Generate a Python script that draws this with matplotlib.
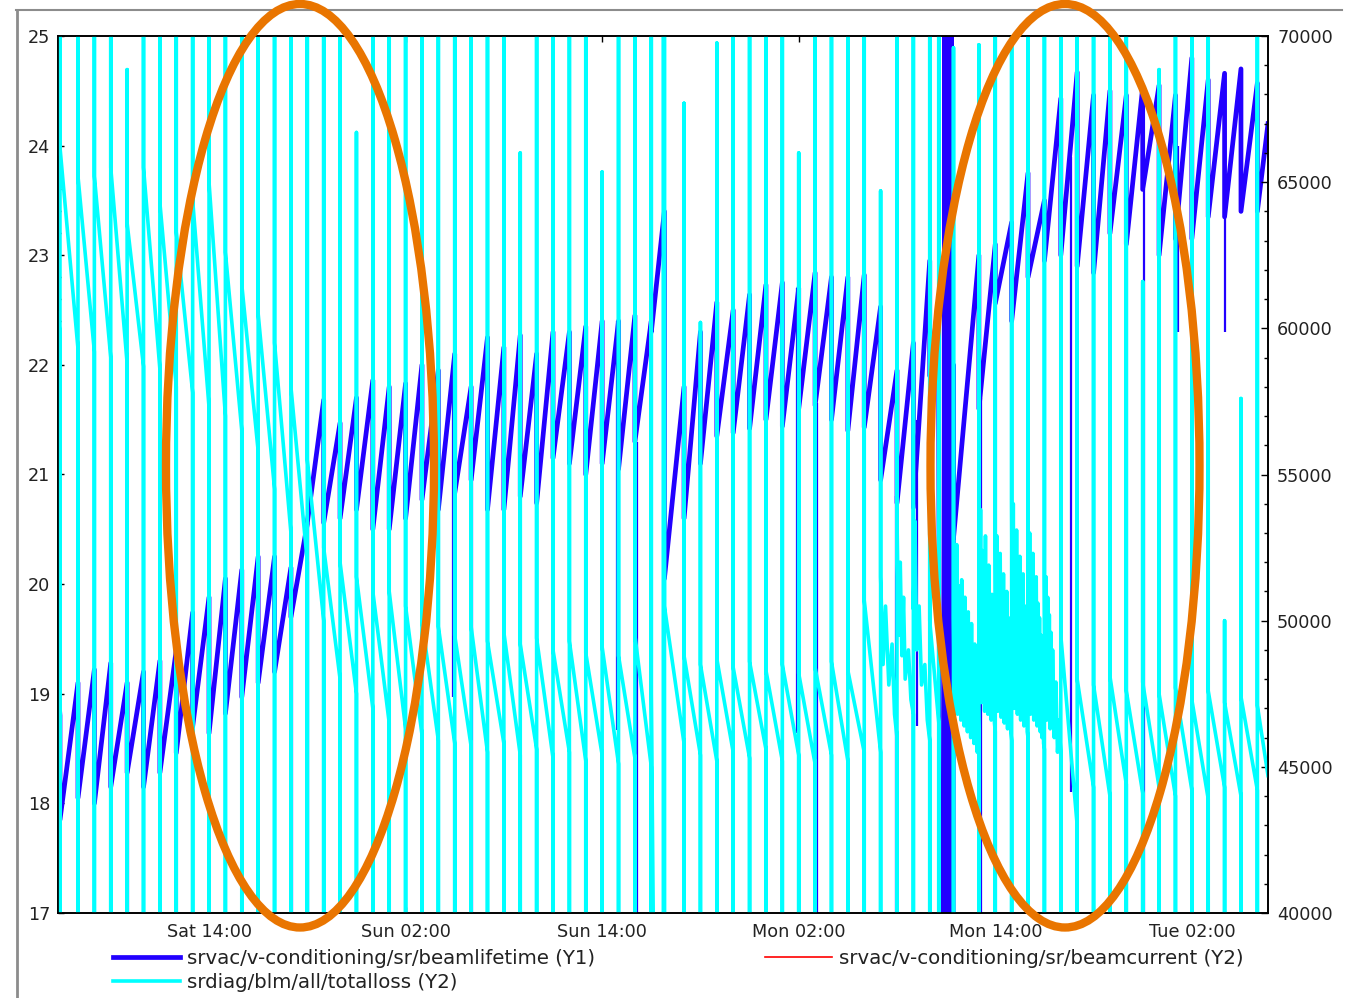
import datetime as dt

import matplotlib
matplotlib.use("Agg")
import matplotlib.pyplot as plt
import matplotlib.dates as mdates
from matplotlib.ticker import MultipleLocator, NullLocator
from matplotlib.patches import Ellipse
from matplotlib.lines import Line2D

# ---------------------------------------------------------------------------
# Data (times are hours after Saturday 00:00)
# ---------------------------------------------------------------------------
T0 = dt.datetime(2024, 6, 1)          # a Saturday
T_START, T_END = 4.78, 78.65

# top-up injection times
inject_h = [4.9, 6, 7, 8, 9, 10, 11, 12, 13, 14, 15, 16, 17, 18, 19, 20, 21,
            22, 23, 24, 25, 26, 27, 28, 29, 30, 31, 32, 33, 34, 35, 36, 37,
            38, 39, 40, 41, 41.8, 43, 44, 45, 46, 47, 48, 49, 50, 51, 52, 53,
            54, 55, 56, 57, 58, 58.55, 59.45, 61, 62, 63, 64, 65, 66, 67, 68,
            69, 70, 71, 72, 73, 74, 75, 76, 77, 78]

# beam lifetime (h) just after each injection and just before the next one
life_lo = [17.85, 18.05, 18.0, 18.15, 18.28, 18.15, 18.28, 18.46, 18.7, 18.64,
           18.82, 18.97, 19.1, 19.2, 19.7, 20.56, 20.56, 20.6, 20.68, 20.5,
           20.5, 20.6, 20.77, 20.68, 20.83, 20.95, 20.68, 20.68, 20.8, 20.74,
           21.15, 21.1, 21.0, 21.1, 21.05, 21.3, 22.3, 20.05, 20.6, 21.1,
           21.35, 21.38, 21.42, 21.5, 21.44, 21.6, 21.63, 21.5, 21.4, 21.43,
           20.95, 20.74, 20.7, 21.9, 21.5, 20.42, 21.6, 22.56, 22.4, 22.8,
           22.95, 23.0, 22.9, 22.84, 23.2, 23.1, 23.6, 23.0, 23.15, 23.15,
           23.35, 23.35, 23.4, 23.4]
life_hi = [19.1, 19.22, 19.28, 19.1, 19.2, 19.3, 19.4, 19.74, 19.88, 20.05,
           20.13, 20.25, 20.25, 20.15, 20.55, 21.68, 21.47, 21.7, 21.86, 21.8,
           21.83, 22.0, 21.95, 22.1, 21.8, 22.25, 22.16, 22.27, 22.1, 22.3,
           22.3, 22.35, 22.4, 22.4, 22.45, 22.4, 23.4, 21.8, 22.3, 22.57,
           22.5, 22.64, 22.73, 22.75, 22.7, 22.84, 22.8, 22.8, 22.82, 22.53,
           21.95, 22.2, 22.95, 22.6, 22.0, 23.0, 23.1, 23.3, 23.75, 23.5,
           24.43, 24.67, 24.46, 24.5, 24.46, 24.53, 24.55, 24.46, 24.8, 24.6,
           24.66, 24.7, 24.57, 24.2]
life_lead = [19.05, 18.8]

# short lifetime glitches: time, upper and lower end of the excursion
glitch_h = [9.04, 19.08, 20.06, 28.9, 30.05, 38.9, 40.1, 41.75, 49.9, 51.1,
            55.95, 57.2, 61.15, 66.6, 71.1, 73.15, 76.0]
glitch_top = [18.3, 19.8, 20.6, 22.0, 21.0, 22.4, 21.3, 24.72, 22.7, 21.65,
              20.8, 21.5, 21.7, 23.9, 23.6, 24.0, 23.4]
glitch_bottom = [16.0, 16.0, 16.0, 18.97, 16.0, 18.67, 16.0, 23.4, 18.64,
                 16.0, 16.0, 18.71, 16.0, 18.1, 16.0, 22.3, 22.3]

# beam trip on Monday morning: lifetime readings jump over the full range
trip_h = [58.88, 58.9, 58.92, 58.94, 58.96, 58.98, 59.0, 59.02, 59.05, 59.08,
          59.11, 59.14, 59.17, 59.2, 59.23, 59.26, 59.29, 59.32, 59.35]
trip_life = [0, 40, 0, 40, 0, 40, 0, 40, 0, 40, 0, 40, 0, 40, 0, 40, 0, 40, 0]

# total BLM loss just after each injection and just before the next one
loss_start = [66200, 65200, 65200, 65500, 63600, 65500, 64300, 63300, 64400,
              65000, 62600, 61500, 60500, 59500, 58000, 55500, 52500, 52000,
              51500, 51000, 51000, 50500, 50000, 49800, 49500, 49800, 49300,
              49600, 49200, 49400, 49000, 49300, 48900, 49100, 48800, 49500,
              47500, 50500, 48800, 48500, 48700, 48400, 48600, 48300, 48500,
              48200, 48400, 48600, 48300, 50700, 51500, 53500, 50400, 50000,
              49000, 50100, 53900, 53000, 54100, 53000, 51500, 49500, 48000,
              47800, 48100, 47600, 47900, 47500, 47700, 47300, 47600, 47200,
              47400, 47100]
loss_end = [59300, 59200, 59000, 58800, 58700, 58600, 58000, 57800, 57300,
            57000, 56500, 55800, 54500, 53000, 52000, 50000, 48000, 47500,
            47000, 46500, 46300, 46100, 45900, 45800, 45700, 45500, 45800,
            45400, 45600, 45300, 45500, 45200, 45400, 45100, 45300, 45000,
            42400, 45800, 45400, 45200, 45500, 45300, 45600, 45200, 45400,
            45100, 45400, 45200, 45500, 45500, 46000, 46800, 45900, 46500,
            47000, 45100, 46200, 45900, 46000, 45600, 45400, 43000, 44300,
            44000, 44400, 44100, 44300, 44000, 44200, 43900, 44300, 44000,
            44200, 44700]
loss_lead = [60500, 59800]

# injection spike peak (values above 70000 leave the plot)
spike_top = [80000, 80000, 80000, 80000, 68850, 80000, 80000, 80000, 80000,
             80000, 80000, 80000, 80000, 80000, 80000, 80000, 80000, 80000,
             66700, 80000, 80000, 80000, 80000, 80000, 80000, 80000, 80000,
             80000, 66000, 80000, 80000, 80000, 80000, 65350, 80000, 80000,
             80000, 80000, 67700, 60200, 69760, 80000, 80000, 80000, 80000,
             66000, 80000, 80000, 80000, 80000, 64700, 80000, 80000, 80000,
             80000, 69600, 69700, 80000, 80000, 80000, 80000, 80000, 80000,
             80000, 80000, 80000, 61600, 68850, 80000, 80000, 80000, 50000,
             57600, 80000]

# extra loss readings inside some fills (refill bursts and noisy periods)
wiggle_h = [41.74, 41.745, 41.77, 41.775,
            55.15, 55.3, 55.5, 55.7, 55.85,
            56.1, 56.2, 56.3, 56.4, 56.5, 56.7, 56.85,
            57.1, 57.2, 57.35, 57.5, 57.7, 57.85,
            59.5, 59.55, 59.6, 59.65, 59.7, 59.75, 59.8, 59.85, 59.9, 59.95,
            60.0, 60.05, 60.1, 60.15, 60.2, 60.25, 60.3, 60.35, 60.4, 60.45,
            60.5, 60.55, 60.6, 60.65, 60.7, 60.75, 60.8, 60.85, 60.9, 60.95,
            61.05, 61.1, 61.15, 61.2, 61.25, 61.3, 61.35, 61.4, 61.45, 61.5,
            61.55, 61.6, 61.65, 61.7, 61.75, 61.8, 61.85, 61.9, 61.95,
            62.05, 62.1, 62.15, 62.2, 62.25, 62.3, 62.35, 62.4, 62.45, 62.5,
            62.55, 62.6, 62.65, 62.7, 62.75, 62.8, 62.85, 62.9, 62.95,
            63.05, 63.1, 63.15, 63.2, 63.25, 63.3, 63.35, 63.4, 63.45, 63.5,
            63.55, 63.6, 63.65, 63.7, 63.75, 63.8, 63.85, 63.9, 63.95,
            64.05, 64.1, 64.15, 64.2, 64.25, 64.3, 64.35, 64.4, 64.45, 64.5,
            64.55, 64.6, 64.65, 64.7, 64.75, 64.8, 64.85, 64.9, 64.95,
            65.05, 65.1, 65.15, 65.2, 65.25, 65.3, 65.35, 65.4, 65.45, 65.5,
            65.6, 65.7, 65.8, 65.9]
wiggle_loss = [0, 80000, 0, 80000,
               48500, 50500, 47800, 49200, 46800,
               49500, 52000, 48800, 50800, 48000, 49000, 47300,
               53400, 49000, 50500, 47800, 48500, 46600,
               47200, 51800, 47000, 52600, 46800, 51200, 47100, 50600, 46600,
               51400, 46900, 50200, 46400, 50800, 46700, 49800, 46200, 50300,
               46500, 49400, 46000, 49900, 46300, 48900, 45800, 49200, 45900,
               48300, 45500, 47600,
               47600, 53800, 47200, 52400, 47500, 51700, 46900, 52900, 47300,
               51200, 46800, 51900, 47100, 50600, 46600, 50900, 46900, 49800,
               46500,
               47300, 52900, 46900, 51800, 47200, 52300, 46700, 51100, 47000,
               51600, 46500, 50700, 46800, 51000, 46300, 50100, 46600, 49400,
               46200,
               47500, 54000, 47000, 52600, 47300, 53100, 46800, 51900, 47100,
               52200, 46600, 51300, 46900, 51600, 46400, 50500, 46700, 49800,
               46200,
               47200, 53000, 46800, 51900, 47100, 52300, 46600, 51200, 46900,
               51500, 46400, 50600, 46700, 50100, 46200, 49500, 46000, 48700,
               45800,
               46900, 51500, 46600, 50800, 46900, 50200, 46300, 49600, 46500,
               49000, 46000, 47900, 45500, 46600]

# stored beam current (mA), far below the Y2 range shown
current_h = [T_START, T_END]
current_ma = [200.3, 200.1]

# ---------------------------------------------------------------------------
BLUE = "#2200ff"
CYAN = "#00ffff"
RED = "#ff0000"
ORANGE = "#e97500"
TEXT = "#222222"
FS = 12.7
FS_LEG = 14.2


def at(h):
    return T0 + dt.timedelta(hours=h)


def build(lead, lo, hi, extra_t=(), extra_v=(), inj=None):
    pts = [(T_START, lead[0]), (inject_h[0], lead[1])]
    for i, t in enumerate(inject_h):
        t_next = inject_h[i + 1] if i + 1 < len(inject_h) else T_END
        if inj is not None:
            pts += [(t, 0.0), (t, inj[i])]
        pts += [(t, lo[i]), (t_next, hi[i])]
    pts += list(zip(extra_t, extra_v))
    pts.sort(key=lambda p: p[0])
    return [at(p[0]) for p in pts], [p[1] for p in pts]


W, H = 1358, 998
fig = plt.figure(figsize=(W / 100, H / 100), dpi=100)
ax = fig.add_axes([58 / W, 1 - 913 / H, 1210 / W, 877 / H])
ax2 = ax.twinx()

# Y1 series
bt, bv = build(life_lead, life_lo, life_hi, trip_h, trip_life)
l_life, = ax.plot(bt, bv, color=BLUE, lw=3.4)
ax.vlines([at(h) for h in glitch_h], glitch_bottom, glitch_top,
          color=BLUE, lw=1.6)

# Y2 series
lt, lv = build(loss_lead, loss_start, loss_end, wiggle_h, wiggle_loss, spike_top)
l_loss, = ax2.plot(lt, lv, color=CYAN, lw=2.6)
l_cur, = ax2.plot([at(h) for h in current_h], current_ma, color=RED, lw=1.2)

# axes, ticks
ax.set_xlim(at(T_START), at(T_END))
ax.set_ylim(17, 25)
ax2.set_ylim(40000, 70000)

ax.xaxis.set_major_locator(mdates.HourLocator(byhour=[2, 14]))
ax.xaxis.set_major_formatter(mdates.DateFormatter("%a %H:%M"))
ax.xaxis.set_minor_locator(NullLocator())
ax.yaxis.set_major_locator(MultipleLocator(1))
ax.yaxis.set_minor_locator(MultipleLocator(0.2))
ax2.yaxis.set_major_locator(MultipleLocator(5000))
ax2.yaxis.set_minor_locator(MultipleLocator(1000))

ax.tick_params(axis="both", which="both", direction="in", top=True,
               right=False, labelsize=FS, labelcolor=TEXT, width=1.0)
ax.tick_params(axis="both", which="major", length=4.5)
ax.tick_params(axis="y", which="minor", length=2.5)
ax.tick_params(axis="y", pad=5.5)
ax.tick_params(axis="x", pad=7.0)
ax2.tick_params(axis="y", which="both", direction="in", labelsize=FS,
                labelcolor=TEXT, width=1.0, pad=6.5)
ax2.tick_params(axis="y", which="major", length=5)
ax2.tick_params(axis="y", which="minor", length=3)

for a in (ax, ax2):
    for s in a.spines.values():
        s.set_linewidth(1.2)
        s.set_color("black")

# legend below the plot
fig.legend([l_life, l_loss, l_cur],
           ["srvac/v-conditioning/sr/beamlifetime (Y1)",
            "srdiag/blm/all/totalloss (Y2)",
            "srvac/v-conditioning/sr/beamcurrent (Y2)"],
           ncol=2, loc="upper left", bbox_to_anchor=(113 / W, 1 - 949 / H),
           frameon=False, borderpad=0, borderaxespad=0, fontsize=FS_LEG,
           handlelength=3.4, handletextpad=0.36, columnspacing=8.6,
           labelspacing=0.25, labelcolor=TEXT)

# highlighted regions
for cx, w in ((300, 268), (1065, 269)):
    fig.add_artist(Ellipse((cx / W, 1 - 465.75 / H), w / W, 923.5 / H,
                           transform=fig.transFigure, fill=False,
                           edgecolor=ORANGE, lw=6.0, zorder=10))

# window border
fig.add_artist(Line2D([16.5 / W, 16.5 / W], [0, 1 - 10 / H],
                      transform=fig.transFigure, color="#8c8c8c", lw=2.0))
fig.add_artist(Line2D([16 / W, 1342 / W], [1 - 10.3 / H, 1 - 10.3 / H],
                      transform=fig.transFigure, color="#8c8c8c", lw=1.5))

fig.savefig("out.png", dpi=100, facecolor="white")
